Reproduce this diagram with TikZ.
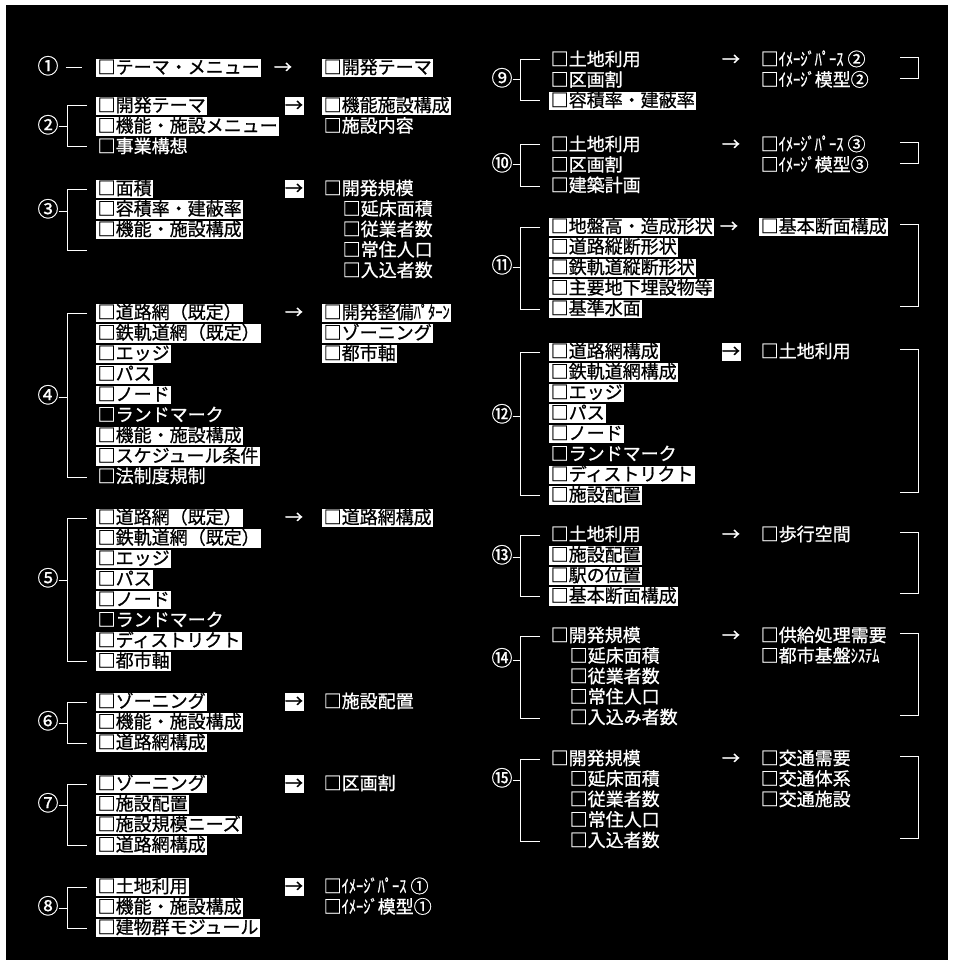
\documentclass[tikz,border=0pt]{standalone}
\usepackage{fontspec}
\usepackage{graphicx}
\newfontfamily\jp[FakeBold=0.8]{Noto Sans CJK JP}
\usetikzlibrary{positioning}
\newcommand{\hw}[1]{\scalebox{0.8}[1]{#1}}

\begin{document}
\begin{tikzpicture}[x=1pt, y=-1pt, node distance=20.5pt, on grid,
    every node/.style={font=\jp\fontsize{18}{18}\selectfont, text=white, inner xsep=1.5pt, inner ysep=0.5pt, text height=14.5pt, text depth=3pt},
    item/.style={anchor=west},
    hl/.style={anchor=west, fill=white, text=black},
    arr/.style={inner xsep=0.5pt},
    harr/.style={arr, fill=white, text=black},
    num/.style={inner sep=0pt, font=\jp\fontsize{21}{21}\selectfont},
    brk/.style={draw=white, line width=1pt}]
    \useasboundingbox[fill=white] (0,0) rectangle (955,960);
    \fill[black] (6,5) rectangle (948,960);

    % --- left column ---
    % 1
    \node[num] (n1) at (48,68) {①};
    \node[hl] (a1) at (96,68) {□テーマ・メニュー};
    \node[arr] (r1) at (283,68) {→};
    \node[hl] (p1) at (322,68) {□開発テーマ};
    \draw[brk] ([xshift=7]n1.east) -- ([xshift=-14]a1.west);

    % 2
    \node[hl] (a2) at (96,106) {□開発テーマ};
    \node (b2) [below=of a2.west, hl] {□機能・施設メニュー};
    \node (c2) [below=of b2.west, item] {□事業構想};
    \node[num] (n2) at (48,127) {②};
    \node[harr] (r2) at (294,106) {→};
    \node[hl] (p2) at (322,106) {□機能施設構成};
    \node (q2) [below=of p2.west, item] {□施設内容};
    \draw[brk] ([xshift=-9]a2.west) -- ++(-20,0) |- ([xshift=-9]a2.west |- c2) (n2.east) -- ([xshift=-29]a2.west |- n2.east);

    % 3
    \node[hl] (a3) at (96,189) {□面積};
    \node (b3) [below=of a3.west, hl] {□容積率・建蔽率};
    \node (c3) [below=of b3.west, hl] {□機能・施設構成};
    \coordinate (z3) at ([yshift=-20.5]c3.west);
    \node[num] (n3) at (48,211) {③};
    \node[harr] (r3) at (294,189) {→};
    \node[item] (p3) at (322,189) {□開発規模};
    \node (q3) [below=of p3.west, item, xshift=19] {□延床面積};
    \node (s3) [below=of q3.west, item] {□従業者数};
    \node (t3) [below=of s3.west, item] {□常住人口};
    \node (u3) [below=of t3.west, item] {□入込者数};
    \draw[brk] ([xshift=-9]a3.west) -- ++(-20,0) |- ([xshift=-9]a3.west |- z3) (n3.east) -- ([xshift=-29]a3.west |- n3.east);

    % 4
    \node[hl] (a4) at (96,313) {□道路網（既定）};
    \node (b4) [below=of a4.west, hl] {□鉄軌道網（既定）};
    \node (c4) [below=of b4.west, hl] {□エッジ};
    \node (d4) [below=of c4.west, hl] {□パス};
    \node (e4) [below=of d4.west, hl] {□ノード};
    \node (f4) [below=of e4.west, item] {□ランドマーク};
    \node (g4) [below=of f4.west, hl] {□機能・施設構成};
    \node (h4) [below=of g4.west, hl] {□スケジュール条件};
    \node (i4) [below=of h4.west, item] {□法制度規制};
    \node[num] (n4) at (48,397) {④};
    \node[arr] (r4) at (294,313) {→};
    \node[hl] (p4) at (322,313) {□開発整備\hw{ﾊﾟﾀｰﾝ}};
    \node (q4) [below=of p4.west, hl] {□ゾーニング};
    \node (s4) [below=of q4.west, hl] {□都市軸};
    \draw[brk] ([xshift=-9]a4.west) -- ++(-20,0) |- ([xshift=-9]a4.west |- i4) (n4.east) -- ([xshift=-29]a4.west |- n4.east);

    % 5
    \node[hl] (a5) at (96,518) {□道路網（既定）};
    \node (b5) [below=of a5.west, hl] {□鉄軌道網（既定）};
    \node (c5) [below=of b5.west, hl] {□エッジ};
    \node (d5) [below=of c5.west, hl] {□パス};
    \node (e5) [below=of d5.west, hl] {□ノード};
    \node (f5) [below=of e5.west, item] {□ランドマーク};
    \node (g5) [below=of f5.west, hl] {□ディストリクト};
    \node (h5) [below=of g5.west, hl] {□都市軸};
    \node[num] (n5) at (48,580) {⑤};
    \node[arr] (r5) at (294,518) {→};
    \node[hl] (p5) at (322,518) {□道路網構成};
    \draw[brk] ([xshift=-9]a5.west) -- ++(-20,0) |- ([xshift=-9]a5.west |- h5) (n5.east) -- ([xshift=-29]a5.west |- n5.east);

    % 6
    \node[hl] (a6) at (96,702) {□ゾーニング};
    \node (b6) [below=of a6.west, hl] {□機能・施設構成};
    \node (c6) [below=of b6.west, hl] {□道路網構成};
    \node[num] (n6) at (48,723) {⑥};
    \node[harr] (r6) at (294,702) {→};
    \node[item] (p6) at (322,702) {□施設配置};
    \draw[brk] ([xshift=-9]a6.west) -- ++(-20,0) |- ([xshift=-9]a6.west |- c6) (n6.east) -- ([xshift=-29]a6.west |- n6.east);

    % 7
    \node[hl] (a7) at (96,784) {□ゾーニング};
    \node (b7) [below=of a7.west, hl] {□施設配置};
    \node (c7) [below=of b7.west, hl] {□施設規模ニーズ};
    \node (d7) [below=of c7.west, hl] {□道路網構成};
    \node[num] (n7) at (48,805) {⑦};
    \node[harr] (r7) at (294,784) {→};
    \node[item] (p7) at (322,784) {□区画割};
    \draw[brk] ([xshift=-9]a7.west) -- ++(-20,0) |- ([xshift=-9]a7.west |- d7) (n7.east) -- ([xshift=-29]a7.west |- n7.east);

    % 8
    \node[hl] (a8) at (96,887) {□土地利用};
    \node (b8) [below=of a8.west, hl] {□機能・施設構成};
    \node (c8) [below=of b8.west, hl] {□建物群モジュール};
    \node[num] (n8) at (48,908) {⑧};
    \node[harr] (r8) at (294,887) {→};
    \node[item] (p8) at (322,887) {□\hw{ｲﾒｰｼﾞﾊﾟｰｽ} ①};
    \node (q8) [below=of p8.west, item] {□\hw{ｲﾒｰｼﾞ}模型①};
    \draw[brk] ([xshift=-9]a8.west) -- ++(-20,0) |- ([xshift=-9]a8.west |- c8) (n8.east) -- ([xshift=-29]a8.west |- n8.east);

    % --- right column ---
    % 9
    \node[item] (a9) at (549,60) {□土地利用};
    \node (b9) [below=of a9.west, item] {□区画割};
    \node (c9) [below=of b9.west, hl] {□容積率・建蔽率};
    \node[num] (n9) at (502,80) {⑨};
    \node[arr] (r9) at (731,60) {→};
    \node[item] (p9) at (759,60) {□\hw{ｲﾒｰｼﾞﾊﾟｰｽ} ②};
    \node (q9) [below=of p9.west, item] {□\hw{ｲﾒｰｼﾞ}模型②};
    \draw[brk] ([xshift=-9]a9.west) -- ++(-20,0) |- ([xshift=-9]a9.west |- c9) (n9.east) -- ([xshift=-29]a9.west |- n9.east);
    \draw[brk] ([xshift=141,yshift=2]p9.west) -| ([xshift=159,yshift=2]p9.west |- q9) -- ++(-18,0);

    % 10
    \node[item] (a10) at (549,145) {□土地利用};
    \node (b10) [below=of a10.west, item] {□区画割};
    \node (c10) [below=of b10.west, item] {□建築計画};
    \node[num] (n10) at (502,165) {⑩};
    \node[arr] (r10) at (731,145) {→};
    \node[item] (p10) at (759,145) {□\hw{ｲﾒｰｼﾞﾊﾟｰｽ} ③};
    \node (q10) [below=of p10.west, item] {□\hw{ｲﾒｰｼﾞ}模型③};
    \draw[brk] ([xshift=-9]a10.west) -- ++(-20,0) |- ([xshift=-9]a10.west |- c10) (n10.east) -- ([xshift=-29]a10.west |- n10.east);
    \draw[brk] ([xshift=141,yshift=2]p10.west) -| ([xshift=159,yshift=2]p10.west |- q10) -- ++(-18,0);

    % 11
    \node[hl] (a11) at (549,227) {□地盤高・造成形状};
    \node (b11) [below=of a11.west, hl] {□道路縦断形状};
    \node (c11) [below=of b11.west, hl] {□鉄軌道縦断形状};
    \node (d11) [below=of c11.west, hl] {□主要地下埋設物等};
    \node (e11) [below=of d11.west, hl] {□基準水面};
    \node[num] (n11) at (502,267) {⑪};
    \node[arr] (r11) at (729,227) {→};
    \node[hl] (p11) at (759,227) {□基本断面構成};
    \draw[brk] ([xshift=-9]a11.west) -- ++(-20,0) |- ([xshift=-9]a11.west |- e11) (n11.east) -- ([xshift=-29]a11.west |- n11.east);
    \draw[brk] ([xshift=141,yshift=3]p11.west) -| ([xshift=159,yshift=3]p11.west |- e11) -- ++(-18,0);

    % 12
    \node[hl] (a12) at (549,352) {□道路網構成};
    \node (b12) [below=of a12.west, hl] {□鉄軌道網構成};
    \node (c12) [below=of b12.west, hl] {□エッジ};
    \node (d12) [below=of c12.west, hl] {□パス};
    \node (e12) [below=of d12.west, hl] {□ノード};
    \node (f12) [below=of e12.west, item] {□ランドマーク};
    \node (g12) [below=of f12.west, hl] {□ディストリクト};
    \node (h12) [below=of g12.west, hl] {□施設配置};
    \node[num] (n12) at (502,416) {⑫};
    \node[harr] (r12) at (731,352) {→};
    \node[item] (p12) at (759,352) {□土地利用};
    \draw[brk] ([xshift=-9]a12.west) -- ++(-20,0) |- ([xshift=-9]a12.west |- h12) (n12.east) -- ([xshift=-29]a12.west |- n12.east);
    \draw[brk] ([xshift=141,yshift=3]p12.west) -| ([xshift=159,yshift=3]p12.west |- h12) -- ++(-18,0);

    % 13
    \node[item] (a13) at (549,535) {□土地利用};
    \node (b13) [below=of a13.west, hl] {□施設配置};
    \node (c13) [below=of b13.west, hl] {□駅の位置};
    \node (d13) [below=of c13.west, hl] {□基本断面構成};
    \node[num] (n13) at (502,557) {⑬};
    \node[arr] (r13) at (731,535) {→};
    \node[item] (p13) at (759,535) {□歩行空間};
    \draw[brk] ([xshift=-9]a13.west) -- ++(-20,0) |- ([xshift=-9]a13.west |- d13) (n13.east) -- ([xshift=-29]a13.west |- n13.east);
    \draw[brk] ([xshift=141,yshift=3]p13.west) -| ([xshift=159,yshift=3]p13.west |- d13) -- ++(-18,0);

    % 14
    \node[item] (a14) at (549,636) {□開発規模};
    \node (b14) [below=of a14.west, item, xshift=19] {□延床面積};
    \node (c14) [below=of b14.west, item] {□従業者数};
    \node (d14) [below=of c14.west, item] {□常住人口};
    \node (e14) [below=of d14.west, item] {□入込み者数};
    \node[num] (n14) at (502,660) {⑭};
    \node[arr] (r14) at (731,636) {→};
    \node[item] (p14) at (759,636) {□供給処理需要};
    \node (q14) [below=of p14.west, item] {□都市基盤\hw{ｼｽﾃﾑ}};
    \draw[brk] ([xshift=-9]a14.west) -- ++(-20,0) |- ([xshift=-9]a14.west |- e14) (n14.east) -- ([xshift=-29]a14.west |- n14.east);
    \draw[brk] ([xshift=141,yshift=3]p14.west) -| ([xshift=159,yshift=3]p14.west |- e14) -- ++(-18,0);

    % 15
    \node[item] (a15) at (549,759) {□開発規模};
    \node (b15) [below=of a15.west, item, xshift=19] {□延床面積};
    \node (c15) [below=of b15.west, item] {□従業者数};
    \node (d15) [below=of c15.west, item] {□常住人口};
    \node (e15) [below=of d15.west, item] {□入込者数};
    \node[num] (n15) at (502,780) {⑮};
    \node[arr] (r15) at (731,759) {→};
    \node[item] (p15) at (759,759) {□交通需要};
    \node (q15) [below=of p15.west, item] {□交通体系};
    \node (s15) [below=of q15.west, item] {□交通施設};
    \draw[brk] ([xshift=-9]a15.west) -- ++(-20,0) |- ([xshift=-9]a15.west |- e15) (n15.east) -- ([xshift=-29]a15.west |- n15.east);
    \draw[brk] ([xshift=141,yshift=3]p15.west) -| ([xshift=159,yshift=3]p15.west |- e15) -- ++(-18,0);
\end{tikzpicture}
\end{document}
